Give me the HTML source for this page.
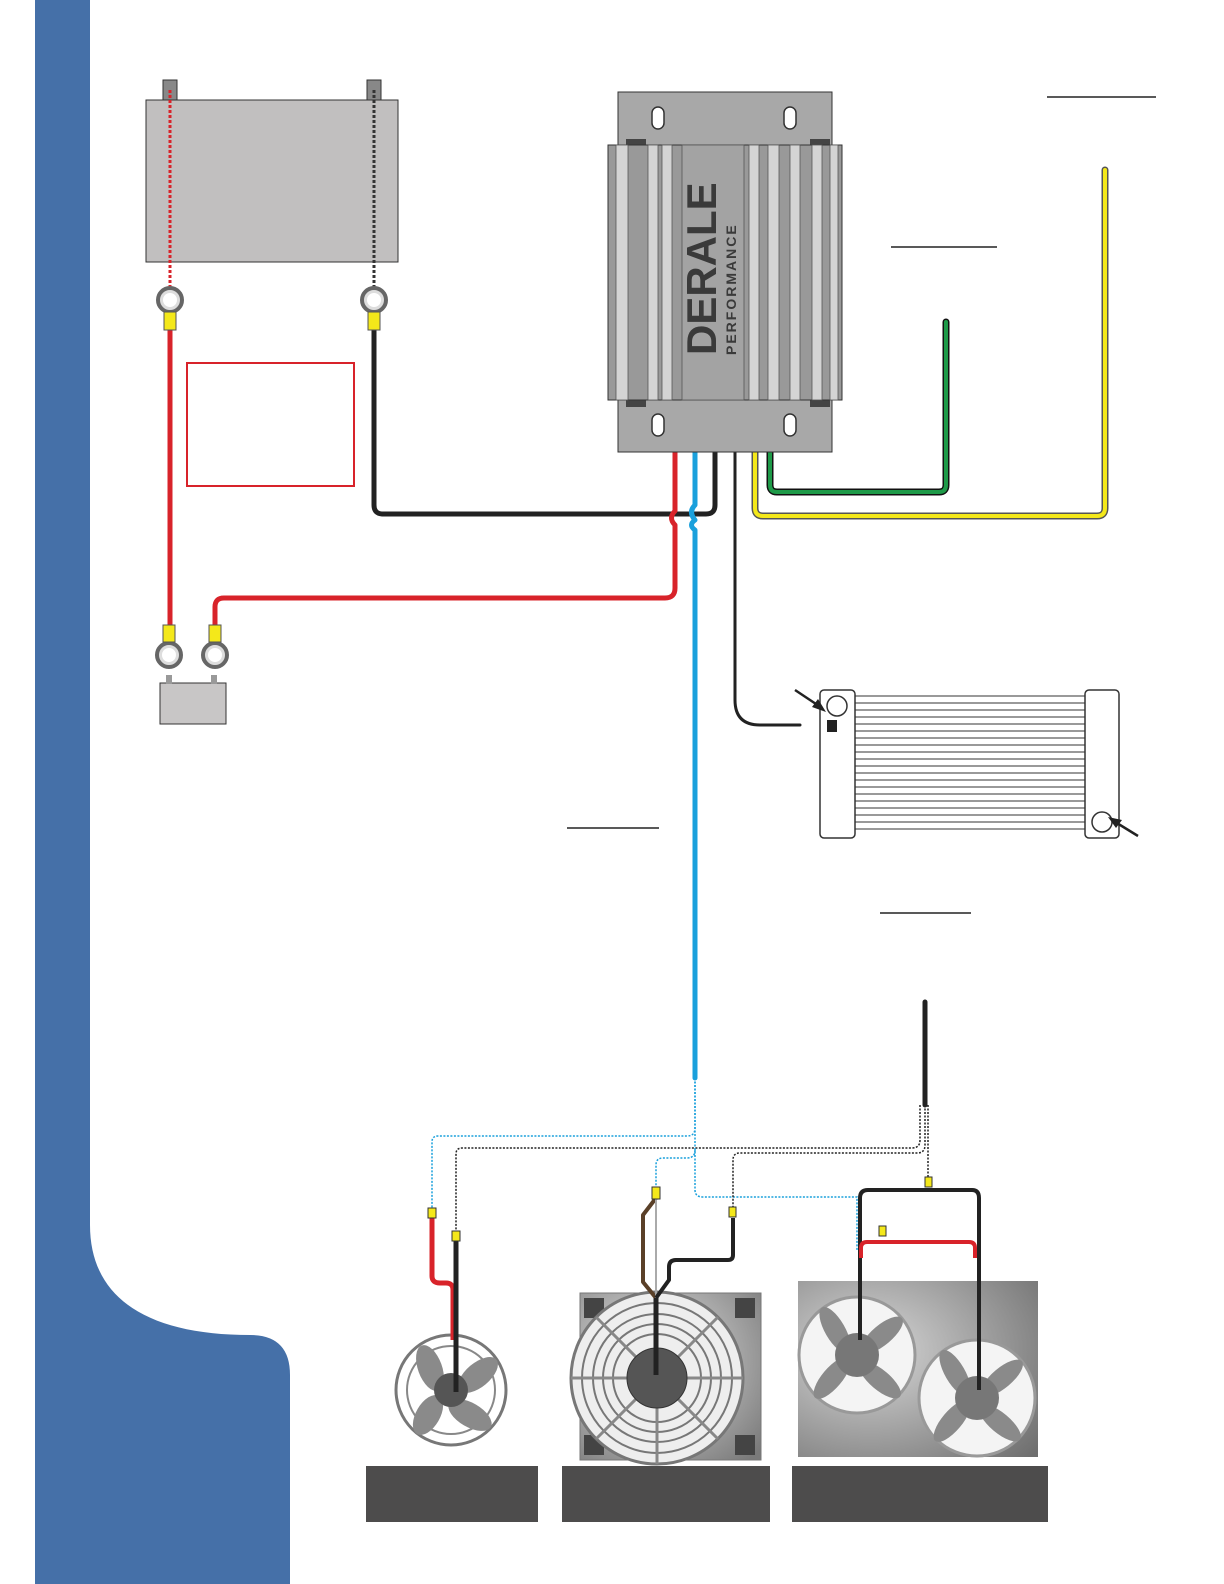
<!DOCTYPE html>
<html><head><meta charset="utf-8"><style>html,body{margin:0;padding:0;background:#fff}svg{display:block}</style></head>
<body>
<svg width="1224" height="1584" viewBox="0 0 1224 1584" xmlns="http://www.w3.org/2000/svg">
<defs>
<radialGradient id="bg1" cx="0.4" cy="0.4" r="0.8"><stop offset="0" stop-color="#e6e6e6"/><stop offset="1" stop-color="#7a7a7a"/></radialGradient>
<radialGradient id="bg2" cx="0.3" cy="0.4" r="0.9"><stop offset="0" stop-color="#d8d8d8"/><stop offset="1" stop-color="#6e6e6e"/></radialGradient>
</defs>
<!-- sidebar -->
<path d="M35,0 H90 V1225 C90,1300 150,1335 250,1335 Q290,1335 290,1375 V1584 H35 Z" fill="#4570a8"/>

<!-- battery -->
<rect x="163" y="80" width="14" height="22" fill="#888" stroke="#333"/>
<rect x="367" y="80" width="14" height="22" fill="#888" stroke="#333"/>
<rect x="146" y="100" width="252" height="162" fill="#c1bfbf" stroke="#333"/>
<line x1="170" y1="90" x2="170" y2="288" stroke="#d8232a" stroke-width="3" stroke-dasharray="3,2"/>
<line x1="374" y1="90" x2="374" y2="288" stroke="#333" stroke-width="3" stroke-dasharray="3,2"/>

<!-- wires -->
<g fill="none" stroke-linejoin="round" stroke-linecap="round">
<path d="M374,330 V505 Q374,514 383,514 H706 Q715,514 715,505 V400" stroke="#222" stroke-width="5"/>
<path d="M170,330 V628" stroke="#d8232a" stroke-width="5"/>
<path d="M215,625 V607 Q215,598 224,598 H665 Q675,598 675,588 V525 Q668,518 675,511 V400" stroke="#d8232a" stroke-width="5"/>
<path d="M695,400 V505 Q688,512 695,520 Q688,525 695,530 V1078" stroke="#1aa0dc" stroke-width="5"/>
<path d="M735,400 V700 Q735,725 760,725 H800" stroke="#222" stroke-width="3"/>
<path d="M770,400 V485 Q770,492 777,492 H939 Q946,492 946,485 V322" stroke="#111" stroke-width="7"/>
<path d="M770,400 V485 Q770,492 777,492 H939 Q946,492 946,485 V322" stroke="#1e9a48" stroke-width="4"/>
<path d="M755,400 V508 Q755,516 763,516 H1097 Q1105,516 1105,508 V170" stroke="#555" stroke-width="7"/>
<path d="M755,400 V508 Q755,516 763,516 H1097 Q1105,516 1105,508 V170" stroke="#f4e81a" stroke-width="4"/>
<path d="M925,1002 V1105" stroke="#222" stroke-width="5"/>
</g>

<!-- ring terminals -->
<g fill="none" stroke="#666" stroke-width="4">
<circle cx="170" cy="300" r="12" fill="#ddd"/><circle cx="374" cy="300" r="12" fill="#ddd"/>
<circle cx="169" cy="655" r="12" fill="#ddd"/><circle cx="215" cy="655" r="12" fill="#ddd"/>
</g>
<g fill="#fff" ><circle cx="170" cy="300" r="7"/><circle cx="374" cy="300" r="7"/><circle cx="169" cy="655" r="7"/><circle cx="215" cy="655" r="7"/></g>
<g fill="#f4e81a" stroke="#555">
<rect x="164" y="312" width="12" height="18"/><rect x="368" y="312" width="12" height="18"/>
<rect x="163" y="625" width="12" height="17"/><rect x="209" y="625" width="12" height="17"/>
</g>
<rect x="187" y="363" width="167" height="123" fill="none" stroke="#d8232a" stroke-width="2"/>
<rect x="160" y="683" width="66" height="41" fill="#c8c6c6" stroke="#333"/>
<rect x="166" y="675" width="6" height="9" fill="#999"/><rect x="211" y="675" width="6" height="9" fill="#999"/>

<!-- controller -->
<rect x="618" y="92" width="214" height="360" fill="#a8a8a8" stroke="#333"/>
<g fill="#fff" stroke="#333" stroke-width="1.5">
<rect x="652" y="107" width="12" height="22" rx="6"/><rect x="784" y="107" width="12" height="22" rx="6"/>
<rect x="652" y="414" width="12" height="22" rx="6"/><rect x="784" y="414" width="12" height="22" rx="6"/>
</g>
<rect x="626" y="139" width="20" height="8" fill="#444"/><rect x="810" y="139" width="20" height="8" fill="#444"/>
<rect x="626" y="399" width="20" height="8" fill="#444"/><rect x="810" y="399" width="20" height="8" fill="#444"/>
<rect x="608" y="145" width="234" height="255" fill="#999" stroke="#333"/>
<g fill="#d4d4d4" stroke="#555" stroke-width="0.8">
<rect x="616" y="145" width="12" height="255"/><rect x="648" y="145" width="10" height="255"/><rect x="662" y="145" width="10" height="255"/>
<rect x="749" y="145" width="10" height="255"/><rect x="768" y="145" width="11" height="255"/><rect x="790" y="145" width="10" height="255"/><rect x="812" y="145" width="10" height="255"/><rect x="830" y="145" width="8" height="255"/>
</g>
<rect x="682" y="145" width="62" height="255" fill="#a3a3a3" stroke="#555" stroke-width="0.8"/>
<g transform="translate(716,355) rotate(-90)" fill="#3a3a3a">
<text x="0" y="0" font-family="Liberation Sans, sans-serif" font-weight="bold" font-size="42">DERALE</text>
<text x="0" y="20" font-family="Liberation Sans, sans-serif" font-weight="bold" font-size="14" letter-spacing="2">PERFORMANCE</text>
</g>

<!-- underline decorations -->
<g stroke="#222" stroke-width="1.5">
<line x1="1047" y1="97" x2="1156" y2="97"/><line x1="891" y1="247" x2="997" y2="247"/>
<line x1="567" y1="828" x2="659" y2="828"/><line x1="880" y1="913" x2="971" y2="913"/>
</g>

<!-- radiator -->
<g stroke="#333" stroke-width="1">
<line x1="855" y1="696" x2="1085" y2="696"/><line x1="855" y1="703" x2="1085" y2="703"/><line x1="855" y1="710" x2="1085" y2="710"/><line x1="855" y1="717" x2="1085" y2="717"/><line x1="855" y1="724" x2="1085" y2="724"/><line x1="855" y1="731" x2="1085" y2="731"/><line x1="855" y1="738" x2="1085" y2="738"/><line x1="855" y1="745" x2="1085" y2="745"/><line x1="855" y1="752" x2="1085" y2="752"/><line x1="855" y1="759" x2="1085" y2="759"/><line x1="855" y1="766" x2="1085" y2="766"/><line x1="855" y1="773" x2="1085" y2="773"/><line x1="855" y1="780" x2="1085" y2="780"/><line x1="855" y1="787" x2="1085" y2="787"/><line x1="855" y1="794" x2="1085" y2="794"/><line x1="855" y1="801" x2="1085" y2="801"/><line x1="855" y1="808" x2="1085" y2="808"/><line x1="855" y1="815" x2="1085" y2="815"/><line x1="855" y1="822" x2="1085" y2="822"/><line x1="855" y1="829" x2="1085" y2="829"/>
</g>
<rect x="820" y="690" width="35" height="148" rx="4" fill="#fff" stroke="#333" stroke-width="1.5"/>
<rect x="1085" y="690" width="34" height="148" rx="4" fill="#fff" stroke="#333" stroke-width="1.5"/>
<circle cx="837" cy="706" r="10" fill="#fff" stroke="#333" stroke-width="1.5"/>
<circle cx="1102" cy="822" r="10" fill="#fff" stroke="#333" stroke-width="1.5"/>
<rect x="827" y="720" width="10" height="12" fill="#222"/>
<g stroke="#222" stroke-width="2.5"><line x1="795" y1="690" x2="822" y2="708"/><line x1="1138" y1="836" x2="1112" y2="820"/></g>
<polygon points="826,712 812,707 818,699" fill="#222"/><polygon points="1108,817 1122,820 1116,828" fill="#222"/>

<!-- dotted bottom wiring -->
<g fill="none" stroke-width="1.5" stroke-dasharray="2,1.5">
<path d="M695,1078 V1128 Q695,1136 687,1136 H438 Q432,1136 432,1142 V1210" stroke="#1aa0dc"/>
<path d="M920,1105 V1140 Q920,1148 912,1148 H462 Q456,1148 456,1154 V1230" stroke="#222"/>
<path d="M695,1078 V1190 Q695,1197 703,1197 H857 V1250" stroke="#1aa0dc"/>
<path d="M695,1150 Q695,1158 687,1158 H663 Q656,1158 656,1165 V1188" stroke="#1aa0dc"/>
<path d="M925,1105 V1145 Q925,1153 917,1153 H740 Q733,1153 733,1160 V1210" stroke="#222"/>
<path d="M928,1105 V1178" stroke="#222"/>
</g>

<!-- fan 1 -->
<circle cx="451" cy="1390" r="55" fill="#fff" stroke="#777" stroke-width="3"/>
<circle cx="451" cy="1390" r="44" fill="none" stroke="#888" stroke-width="2"/>
<g fill="#8a8a8a"><ellipse cx="430" cy="1368" rx="12" ry="24" transform="rotate(-20 430 1368)"/><ellipse cx="478" cy="1375" rx="12" ry="24" transform="rotate(50 478 1375)"/><ellipse cx="470" cy="1415" rx="12" ry="24" transform="rotate(-60 470 1415)"/><ellipse cx="428" cy="1415" rx="12" ry="22" transform="rotate(30 428 1415)"/></g>
<circle cx="451" cy="1390" r="17" fill="#555"/>
<g fill="none" stroke-linejoin="round">
<path d="M432,1214 V1276 Q432,1283 440,1283 H446 Q453,1283 453,1290 V1340" stroke="#d8232a" stroke-width="5"/>
<path d="M456,1238 V1392" stroke="#222" stroke-width="5"/>
</g>
<rect x="428" y="1208" width="8" height="10" fill="#f4e81a" stroke="#333"/>
<rect x="452" y="1231" width="8" height="10" fill="#f4e81a" stroke="#333"/>

<!-- fan 2 -->
<rect x="580" y="1293" width="181" height="167" fill="url(#bg1)" stroke="#777"/>
<g fill="#444"><rect x="584" y="1298" width="20" height="20"/><rect x="735" y="1298" width="20" height="20"/><rect x="584" y="1435" width="20" height="20"/><rect x="735" y="1435" width="20" height="20"/></g>
<circle cx="657" cy="1378" r="86" fill="#eee" stroke="#777" stroke-width="3"/>
<g fill="none" stroke="#777" stroke-width="2"><circle cx="657" cy="1378" r="75"/><circle cx="657" cy="1378" r="64"/><circle cx="657" cy="1378" r="54"/><circle cx="657" cy="1378" r="44"/></g>
<g stroke="#888" stroke-width="3"><line x1="571" y1="1378" x2="743" y2="1378"/><line x1="657" y1="1292" x2="657" y2="1464"/><line x1="596" y1="1317" x2="718" y2="1439"/><line x1="718" y1="1317" x2="596" y2="1439"/></g>
<circle cx="657" cy="1378" r="30" fill="#555" stroke="#333"/>
<g fill="none" stroke-linejoin="round">
<path d="M656,1198 L643,1215 V1282 L656,1298" stroke="#5a4028" stroke-width="4"/>
<path d="M656,1198 V1298" stroke="#aaa" stroke-width="2"/>
<path d="M733,1218 V1255 Q733,1260 728,1260 H676 Q669,1260 669,1267 V1280 L656,1298" stroke="#222" stroke-width="4"/>
<path d="M656,1298 V1375" stroke="#222" stroke-width="5"/>
</g>
<rect x="652" y="1187" width="8" height="12" fill="#f4e81a" stroke="#333"/>
<rect x="729" y="1207" width="7" height="10" fill="#f4e81a" stroke="#333"/>

<!-- fan 3 -->
<rect x="798" y="1281" width="240" height="176" fill="url(#bg2)"/>
<circle cx="857" cy="1355" r="58" fill="#f4f4f4" stroke="#999" stroke-width="3"/>
<circle cx="977" cy="1398" r="58" fill="#f4f4f4" stroke="#999" stroke-width="3"/>
<g fill="#8a8a8a">
<ellipse cx="835" cy="1330" rx="10" ry="26" transform="rotate(-30 835 1330)"/><ellipse cx="882" cy="1335" rx="10" ry="26" transform="rotate(50 882 1335)"/><ellipse cx="880" cy="1380" rx="10" ry="26" transform="rotate(-50 880 1380)"/><ellipse cx="832" cy="1378" rx="10" ry="26" transform="rotate(40 832 1378)"/>
<ellipse cx="955" cy="1373" rx="10" ry="26" transform="rotate(-30 955 1373)"/><ellipse cx="1002" cy="1378" rx="10" ry="26" transform="rotate(50 1002 1378)"/><ellipse cx="1000" cy="1423" rx="10" ry="26" transform="rotate(-50 1000 1423)"/><ellipse cx="952" cy="1421" rx="10" ry="26" transform="rotate(40 952 1421)"/>
</g>
<circle cx="857" cy="1355" r="22" fill="#777"/><circle cx="977" cy="1398" r="22" fill="#777"/>
<g fill="none" stroke-linejoin="round">
<path d="M860,1340 V1198 Q860,1190 868,1190 H972 Q979,1190 979,1198 V1390" stroke="#222" stroke-width="4"/>
<path d="M861,1258 V1248 Q861,1242 867,1242 H969 Q975,1242 975,1248 V1258" stroke="#d8232a" stroke-width="4"/>
</g>
<rect x="925" y="1177" width="7" height="10" fill="#f4e81a" stroke="#333"/>
<rect x="879" y="1226" width="7" height="10" fill="#f4e81a" stroke="#333"/>

<!-- label boxes -->
<rect x="366" y="1466" width="172" height="56" fill="#4d4c4c"/>
<rect x="562" y="1466" width="208" height="56" fill="#4d4c4c"/>
<rect x="792" y="1466" width="256" height="56" fill="#4d4c4c"/>
</svg>
</body></html>
